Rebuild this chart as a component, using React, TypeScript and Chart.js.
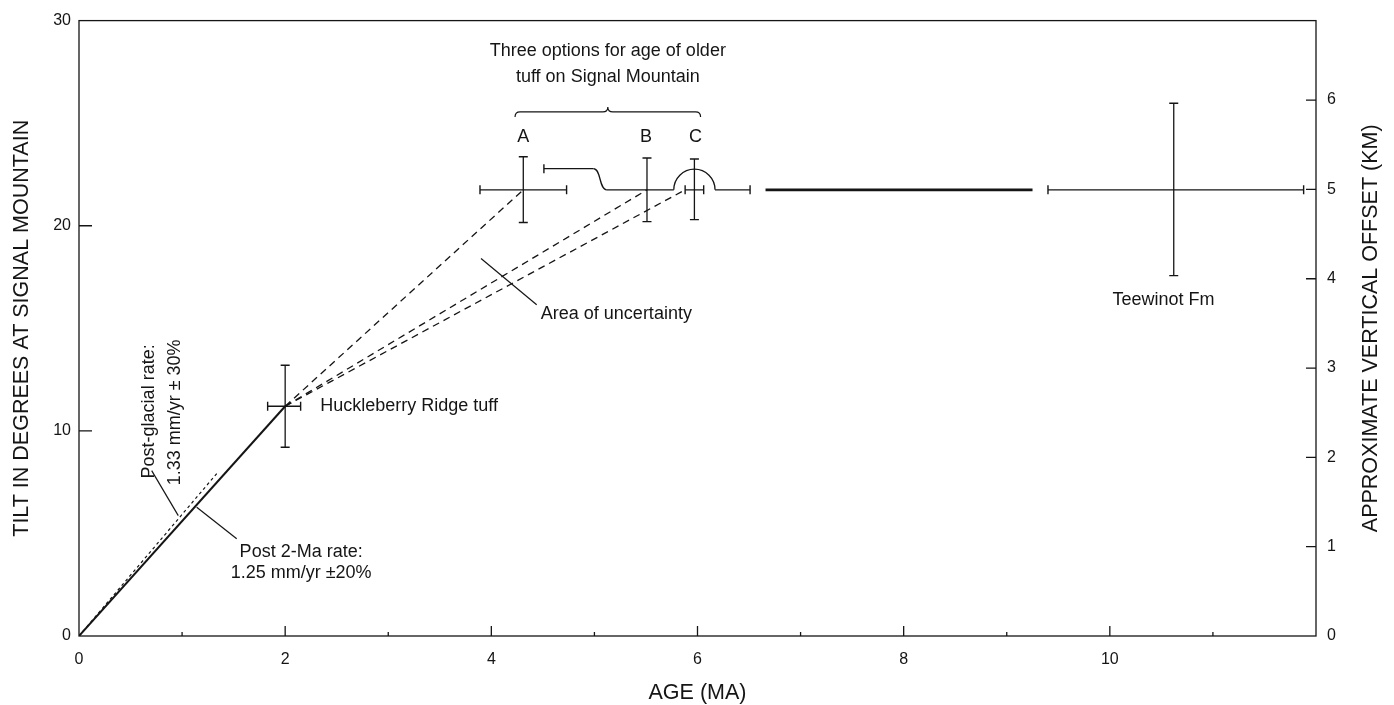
import React, { useEffect, useRef } from "react";
import { Chart, registerables } from "chart.js";

Chart.register(...registerables);

// ---------- Axes ----------
const ageRange = [0, 12];
const tiltRange = [0, 30];
const offsetRangeKm = [0, 6.89];
const ageTicks = [0, 2, 4, 6, 8, 10];
const ageMinorTicks = [1, 3, 5, 7, 9, 11];
const tiltTicks = [0, 10, 20, 30];
const offsetTicksKm = [0, 1, 2, 3, 4, 5, 6];

// ---------- Dated units (age in Ma, tilt in degrees) ----------
const unitNames = ["Huckleberry Ridge tuff", "A", "B", "C", "Teewinot Fm"];
const unitAge = [2.0, 4.31, 5.51, 5.97, 10.62];
const unitTilt = [11.2, 21.75, 21.75, 21.75, 21.75];
const unitAgeLow = [1.83, 3.89, null, 5.88, 9.4];
const unitAgeHigh = [2.15, 4.73, null, 6.06, 11.88];
const unitTiltLow = [9.2, 20.16, 20.2, 20.3, 17.57];
const unitTiltHigh = [13.2, 23.36, 23.3, 23.25, 25.97];

// ---------- Rate lines ----------
const post2MaAge = [0, 2.0];
const post2MaTilt = [0, 11.2];
const postGlacialAge = [0, 1.35];
const postGlacialTilt = [0, 8.0];
const projectionStartAge = 2.0;
const projectionStartTilt = 11.2;
const projectionEndAge = [4.31, 5.51, 5.88];
const projectionEndTilt = [21.75, 21.75, 21.75];

// ---------- Range of possible ages for the older tuff ----------
const rangeStepAge = [4.51, 4.99, 5.12, 5.77];
const rangeStepTilt = [22.78, 22.78, 21.75, 21.75];
const rangeArcAge = [5.77, 6.17];
const rangeTailAge = [6.17, 6.51];
const rangeBoldAge = [6.66, 9.25];
const rangeTilt = 21.75;

// ---------- Brace over options ----------
const braceAge = [4.23, 6.03];
const braceTilt = 25.55;

// ---------- Leader lines ----------
const leaderUncertaintyAge = [3.9, 4.44];
const leaderUncertaintyTilt = [18.4, 16.15];
const leaderPostGlacialAge = [0.705, 0.963];
const leaderPostGlacialTilt = [8.06, 5.87];
const leaderPost2MaAge = [1.142, 1.53];
const leaderPost2MaTilt = [6.28, 4.74];

// ---------- Text ----------
const axisTitles = {
  x: "AGE (MA)",
  y: "TILT IN DEGREES AT SIGNAL MOUNTAIN",
  km: "APPROXIMATE VERTICAL OFFSET (KM)",
};
const notes = [
  { text: "Three options for age of older", age: 5.13, tilt: 28.5, align: "center", rotate: false },
  { text: "tuff on Signal Mountain", age: 5.13, tilt: 27.25, align: "center", rotate: false },
  { text: unitNames[1], age: 4.31, tilt: 24.3, align: "center", rotate: false },
  { text: unitNames[2], age: 5.5, tilt: 24.3, align: "center", rotate: false },
  { text: unitNames[3], age: 5.98, tilt: 24.3, align: "center", rotate: false },
  { text: unitNames[0], age: 2.34, tilt: 11.2, align: "left", rotate: false },
  { text: "Area of uncertainty", age: 4.48, tilt: 15.7, align: "left", rotate: false },
  { text: unitNames[4], age: 10.52, tilt: 16.4, align: "center", rotate: false },
  { text: "Post 2-Ma rate:", age: 2.155, tilt: 4.08, align: "center", rotate: false },
  { text: "1.25 mm/yr \u00B120%", age: 2.155, tilt: 3.06, align: "center", rotate: false },
  { text: "Post-glacial rate:", age: 0.68, tilt: 10.95, align: "center", rotate: true },
  { text: "1.33 mm/yr \u00B1 30%", age: 0.93, tilt: 10.9, align: "center", rotate: true },
];

const INK = "#151515";
const FONT = "'Liberation Sans', Arial, Helvetica, sans-serif";

function pts(xs: number[], ys: number[]) {
  return xs.map((x, i) => ({ x, y: ys[i] }));
}

function line(xs: number[], ys: number[], extra: any = {}) {
  return {
    data: pts(xs, ys),
    showLine: true,
    borderColor: INK,
    borderWidth: 1.3,
    pointRadius: 0,
    pointHoverRadius: 0,
    pointStyle: "line",
    pointBorderColor: INK,
    pointBorderWidth: 1.4,
    fill: false,
    ...extra,
  };
}

function buildDatasets() {
  const ds: any[] = [];
  ds.push(line(post2MaAge, post2MaTilt, { borderWidth: 2 }));
  ds.push(line(postGlacialAge, postGlacialTilt, { borderWidth: 1.2, borderDash: [3, 3] }));
  projectionEndAge.forEach((a, i) => {
    ds.push(
      line([projectionStartAge, a], [projectionStartTilt, projectionEndTilt[i]], {
        borderWidth: 1.3,
        borderDash: [7, 5],
      })
    );
  });
  // error bars
  unitAge.forEach((a, i) => {
    ds.push(
      line([a, a], [unitTiltLow[i], unitTiltHigh[i]], {
        pointRadius: 4.5,
        pointRotation: 0,
      })
    );
    const lo = unitAgeLow[i];
    const hi = unitAgeHigh[i];
    if (lo !== null && hi !== null) {
      ds.push(
        line([lo, hi], [unitTilt[i], unitTilt[i]], {
          pointRadius: 4.5,
          pointRotation: 90,
        })
      );
    }
  });
  // range path: upper step (with start cap), lower step, tail, bold segment
  ds.push(
    line(rangeStepAge.slice(0, 2), rangeStepTilt.slice(0, 2), {
      pointRadius: [4.5, 0],
      pointRotation: 90,
    })
  );
  ds.push(line(rangeStepAge.slice(2), rangeStepTilt.slice(2)));
  ds.push(
    line(rangeTailAge, [rangeTilt, rangeTilt], {
      pointRadius: [0, 4.5],
      pointRotation: 90,
    })
  );
  ds.push(line(rangeBoldAge, [rangeTilt, rangeTilt], { borderWidth: 2.6 }));
  // leaders
  ds.push(line(leaderUncertaintyAge, leaderUncertaintyTilt, { borderWidth: 1.2 }));
  ds.push(line(leaderPostGlacialAge, leaderPostGlacialTilt, { borderWidth: 1.2 }));
  ds.push(line(leaderPost2MaAge, leaderPost2MaTilt, { borderWidth: 1.2 }));
  return ds;
}

const decorPlugin = {
  id: "decor",
  afterDatasetsDraw(chart: any) {
    const { ctx, chartArea, scales } = chart;
    const { left, right, top, bottom } = chartArea;
    const xs = scales.x;
    const ys = scales.y;
    const ks = scales.km;
    ctx.save();
    ctx.strokeStyle = INK;
    ctx.fillStyle = INK;
    ctx.lineWidth = 1.3;

    // frame
    ctx.strokeRect(left, top, right - left, bottom - top);

    // inward ticks
    ctx.beginPath();
    ageTicks.forEach((v) => {
      if (v <= ageRange[0] || v >= ageRange[1]) return;
      const x = xs.getPixelForValue(v);
      ctx.moveTo(x, bottom);
      ctx.lineTo(x, bottom - 10);
    });
    ageMinorTicks.forEach((v) => {
      const x = xs.getPixelForValue(v);
      ctx.moveTo(x, bottom);
      ctx.lineTo(x, bottom - 4);
    });
    tiltTicks.forEach((v) => {
      if (v <= tiltRange[0] || v >= tiltRange[1]) return;
      const y = ys.getPixelForValue(v);
      ctx.moveTo(left, y);
      ctx.lineTo(left + 13, y);
    });
    offsetTicksKm.forEach((v) => {
      if (v <= offsetRangeKm[0]) return;
      const y = ks.getPixelForValue(v);
      ctx.moveTo(right, y);
      ctx.lineTo(right - 10, y);
    });
    ctx.stroke();

    // S-bend of the range path
    const sx0 = xs.getPixelForValue(rangeStepAge[1]);
    const sy0 = ys.getPixelForValue(rangeStepTilt[1]);
    const sx1 = xs.getPixelForValue(rangeStepAge[2]);
    const sy1 = ys.getPixelForValue(rangeStepTilt[2]);
    const sdx = sx1 - sx0;
    ctx.beginPath();
    ctx.moveTo(sx0, sy0);
    ctx.bezierCurveTo(sx0 + sdx * 0.6, sy0, sx0 + sdx * 0.4, sy1, sx1, sy1);
    ctx.stroke();

    // arc over option C
    const ax0 = xs.getPixelForValue(rangeArcAge[0]);
    const ax1 = xs.getPixelForValue(rangeArcAge[1]);
    const ay = ys.getPixelForValue(rangeTilt);
    ctx.beginPath();
    ctx.arc((ax0 + ax1) / 2, ay, (ax1 - ax0) / 2, Math.PI, 0, false);
    ctx.stroke();

    // brace
    const bx0 = xs.getPixelForValue(braceAge[0]);
    const bx1 = xs.getPixelForValue(braceAge[1]);
    const bm = (bx0 + bx1) / 2;
    const by = ys.getPixelForValue(braceTilt);
    const r = 5;
    ctx.lineWidth = 1.2;
    ctx.beginPath();
    ctx.moveTo(bx0, by + r);
    ctx.quadraticCurveTo(bx0, by, bx0 + r, by);
    ctx.lineTo(bm - r, by);
    ctx.quadraticCurveTo(bm, by, bm, by - r);
    ctx.quadraticCurveTo(bm, by, bm + r, by);
    ctx.lineTo(bx1 - r, by);
    ctx.quadraticCurveTo(bx1, by, bx1, by + r);
    ctx.stroke();

    // notes
    ctx.font = `18px ${FONT}`;
    ctx.textBaseline = "middle";
    notes.forEach((n) => {
      const x = xs.getPixelForValue(n.age);
      const y = ys.getPixelForValue(n.tilt);
      ctx.save();
      ctx.translate(x, y);
      if (n.rotate) ctx.rotate(-Math.PI / 2);
      ctx.textAlign = n.align as CanvasTextAlign;
      ctx.fillText(n.text, 0, 0);
      ctx.restore();
    });

    // axis titles
    ctx.font = `21.5px ${FONT}`;
    ctx.textAlign = "center";
    ctx.textBaseline = "alphabetic";
    const midY = (top + bottom) / 2;
    ctx.save();
    ctx.translate(28, midY);
    ctx.rotate(-Math.PI / 2);
    ctx.fillText(axisTitles.y, 0, 0);
    ctx.restore();
    ctx.save();
    ctx.translate(1377, midY);
    ctx.rotate(-Math.PI / 2);
    ctx.fillText(axisTitles.km, 0, 0);
    ctx.restore();
    ctx.fillText(axisTitles.x, (left + right) / 2, 699);

    ctx.restore();
  },
};

export default function App() {
  const ref = useRef<HTMLCanvasElement | null>(null);
  useEffect(() => {
    const tickFont = { family: FONT, size: 16 };
    const chart = new Chart(ref.current as HTMLCanvasElement, {
      type: "scatter",
      data: { datasets: buildDatasets() },
      options: {
        animation: false,
        responsive: true,
        maintainAspectRatio: false,
        events: [],
        layout: { padding: { top: 18, left: 0, right: 0, bottom: 0 } },
        plugins: { legend: { display: false }, tooltip: { enabled: false } },
        scales: {
          x: {
            type: "linear",
            position: "bottom",
            min: ageRange[0],
            max: ageRange[1],
            grid: { display: false, drawTicks: false },
            border: { display: false },
            afterBuildTicks: (s: any) => {
              s.ticks = ageTicks.map((v) => ({ value: v }));
            },
            afterFit: (s: any) => {
              s.height = 69;
            },
            ticks: { color: INK, font: tickFont, padding: 14, maxRotation: 0, autoSkip: false },
          },
          y: {
            type: "linear",
            position: "left",
            min: tiltRange[0],
            max: tiltRange[1],
            grid: { display: false, drawTicks: false },
            border: { display: false },
            afterBuildTicks: (s: any) => {
              s.ticks = tiltTicks.map((v) => ({ value: v }));
            },
            afterFit: (s: any) => {
              s.width = 79;
            },
            ticks: { color: INK, font: tickFont, padding: 8 },
          },
          km: {
            type: "linear",
            position: "right",
            min: offsetRangeKm[0],
            max: offsetRangeKm[1],
            grid: { display: false, drawTicks: false },
            border: { display: false },
            afterBuildTicks: (s: any) => {
              s.ticks = offsetTicksKm.map((v) => ({ value: v }));
            },
            afterFit: (s: any) => {
              s.width = 78;
            },
            ticks: { color: INK, font: tickFont, padding: 11 },
          },
        },
      },
      plugins: [decorPlugin],
    } as any);
    return () => chart.destroy();
  }, []);
  return (
    <div style={{ position: "fixed", left: 0, top: 0, width: 1394, height: 705, background: "#fff" }}>
      <canvas ref={ref} />
    </div>
  );
}
